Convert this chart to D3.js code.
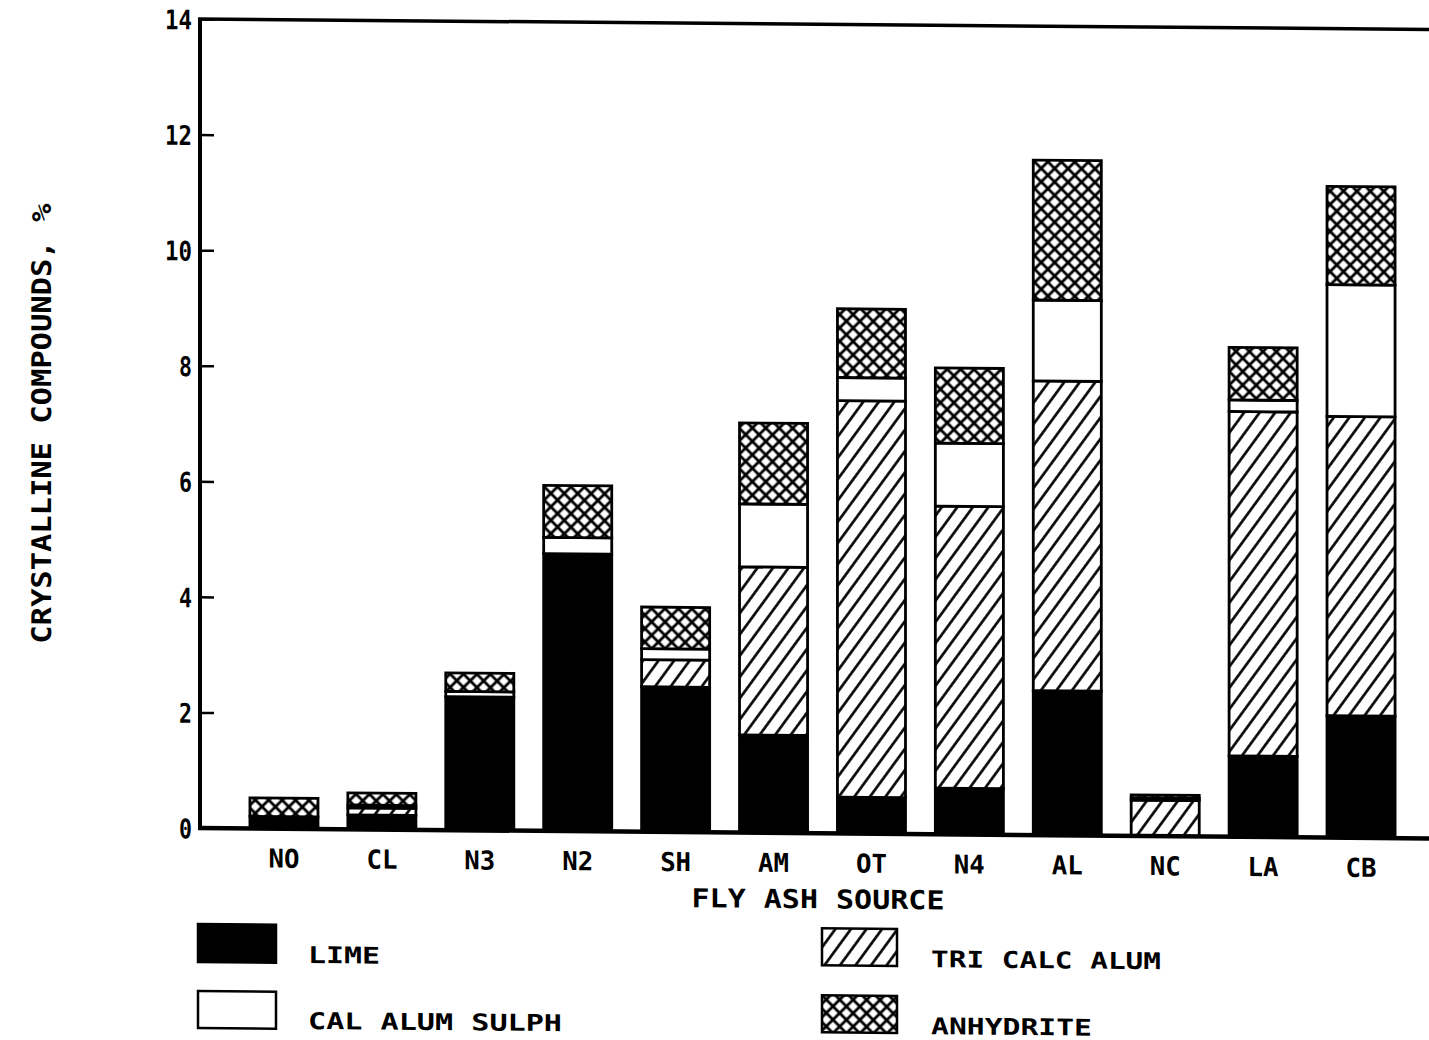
<!DOCTYPE html>
<html>
<head>
<meta charset="utf-8">
<script src="https://cdn.jsdelivr.net/npm/d3@7"></script>
<style>
  html, body { margin: 0; padding: 0; background: #fff; }
  svg { display: block; }
  text { font-family: "DejaVu Sans Mono", "Liberation Mono", monospace; font-weight: bold; fill: #000; }
</style>
</head>
<body>
<svg id="chart" width="1429" height="1040"></svg>
<script>
// Fly ash sources and their crystalline compound contents (%)
const categories = ["NO", "CL", "N3", "N2", "SH", "AM", "OT", "N4", "AL", "NC", "LA", "CB"];
const lime     = [0.21, 0.25, 2.31, 4.80, 2.51, 1.69, 0.63, 0.80, 2.50, 0.00, 1.40, 2.11];
const triCalc  = [0.00, 0.12, 0.00, 0.00, 0.47, 2.91, 6.86, 4.88, 5.36, 0.62, 5.96, 5.18];
const calSulph = [0.00, 0.05, 0.09, 0.28, 0.19, 1.09, 0.40, 1.09, 1.40, 0.04, 0.20, 2.28];
const anhyd    = [0.32, 0.21, 0.32, 0.90, 0.72, 1.40, 1.19, 1.30, 2.42, 0.05, 0.91, 1.70];
const yTicks   = [0, 2, 4, 6, 8, 10, 12, 14];

const seriesKeys   = ["lime", "triCalc", "calSulph", "anhyd"];
const seriesLabels = { lime: "LIME", calSulph: "CAL ALUM SULPH", triCalc: "TRI CALC ALUM", anhyd: "ANHYDRITE" };

const rows = categories.map((c, i) => ({
  source: c, lime: lime[i], triCalc: triCalc[i], calSulph: calSulph[i], anhyd: anhyd[i]
}));

const svg = d3.select("#chart");

// hatch fills
const defs = svg.append("defs");
const dW = 12.5;
const diag = defs.append("pattern")
  .attr("id", "diag").attr("patternUnits", "userSpaceOnUse")
  .attr("width", dW).attr("height", dW)
  .attr("patternTransform", "rotate(36)");
diag.append("rect").attr("width", dW).attr("height", dW).attr("fill", "#fff");
diag.append("line").attr("x1", dW / 2).attr("y1", -1).attr("x2", dW / 2).attr("y2", dW + 1)
  .attr("stroke", "#000").attr("stroke-width", 2.6);

const cW = 9.5;
const cross = defs.append("pattern")
  .attr("id", "cross").attr("patternUnits", "userSpaceOnUse")
  .attr("width", cW).attr("height", cW)
  .attr("patternTransform", "rotate(45)");
cross.append("rect").attr("width", cW).attr("height", cW).attr("fill", "#fff");
cross.append("line").attr("x1", cW / 2).attr("y1", -1).attr("x2", cW / 2).attr("y2", cW + 1)
  .attr("stroke", "#000").attr("stroke-width", 2.8);
cross.append("line").attr("x1", -1).attr("y1", cW / 2).attr("x2", cW + 1).attr("y2", cW / 2)
  .attr("stroke", "#000").attr("stroke-width", 2.8);

const fills = { lime: "#000", calSulph: "#fff", triCalc: "url(#diag)", anhyd: "url(#cross)" };

// the plot sheet sits on a very slight slant
const g = svg.append("g").attr("transform", "matrix(1,0.0085,0,1,0,-1.7)");

const x = d3.scaleBand().domain(categories).range([200, 1445])
  .paddingInner(0.305).paddingOuter(0.51);
const y = d3.scaleLinear().domain([0, 14]).range([828, 19]);

const stacked = d3.stack().keys(seriesKeys)(rows);

// bars
const layer = g.append("g").selectAll("g").data(stacked).join("g")
  .attr("fill", d => fills[d.key]);
layer.selectAll("rect").data(d => d).join("rect")
  .attr("x", d => x(d.data.source))
  .attr("width", x.bandwidth())
  .attr("y", d => y(d[1]))
  .attr("height", d => Math.max(0, y(d[0]) - y(d[1])))
  .attr("stroke", "#000").attr("stroke-width", 2.8)
  .attr("display", d => (d[1] - d[0]) > 0 ? null : "none");

// y axis, ticks pointing into the plot
const yAxis = g.append("g").attr("transform", "translate(200,0)")
  .call(d3.axisLeft(y).tickValues(yTicks).tickSizeInner(-14).tickSizeOuter(0).tickPadding(8));
yAxis.select(".domain").remove();
yAxis.selectAll(".tick line").attr("stroke", "#000").attr("stroke-width", 2.5);
yAxis.selectAll(".tick text")
  .attr("font-size", 27).attr("dy", null).attr("y", 10)
  .attr("textLength", d => String(d).length > 1 ? 27 : 13)
  .attr("lengthAdjust", "spacingAndGlyphs");

// x axis labels
const xAxis = g.append("g").attr("transform", "translate(0,828)")
  .call(d3.axisBottom(x).tickSize(0).tickPadding(0));
xAxis.select(".domain").remove();
xAxis.selectAll(".tick text")
  .attr("font-size", 26).attr("dy", null).attr("y", 39)
  .attr("textLength", 31).attr("lengthAdjust", "spacingAndGlyphs");

// frame lines
g.append("line").attr("x1", 200).attr("x2", 200).attr("y1", 19).attr("y2", 830)
  .attr("stroke", "#000").attr("stroke-width", 4);
g.append("line").attr("x1", 198).attr("x2", 1440).attr("y1", y(0)).attr("y2", y(0))
  .attr("stroke", "#000").attr("stroke-width", 4.5);
g.append("line").attr("x1", 198).attr("x2", 1440).attr("y1", y(14)).attr("y2", y(14))
  .attr("stroke", "#000").attr("stroke-width", 3.5);

// axis titles
g.append("text").attr("x", 818).attr("y", 903).attr("text-anchor", "middle")
  .attr("font-size", 26).attr("textLength", 253).attr("lengthAdjust", "spacingAndGlyphs")
  .text("FLY ASH SOURCE");
g.append("text").attr("transform", "translate(51,425) rotate(-90)")
  .attr("text-anchor", "middle").attr("font-size", 27)
  .attr("textLength", 440).attr("lengthAdjust", "spacingAndGlyphs")
  .text("CRYSTALLINE COMPOUNDS, %");

// legend
const legendItems = [
  { key: "lime",     bx: 198, by: 924, bw: 78, bh: 38, tx: 308, ty: 962,  tl: 72 },
  { key: "calSulph", bx: 198, by: 991, bw: 78, bh: 37, tx: 308, ty: 1028, tl: 254 },
  { key: "triCalc",  bx: 822, by: 923, bw: 75, bh: 37, tx: 931, ty: 961,  tl: 230 },
  { key: "anhyd",    bx: 822, by: 990, bw: 75, bh: 37, tx: 931, ty: 1028, tl: 161 }
];
const leg = g.append("g").selectAll("g").data(legendItems).join("g");
leg.append("rect")
  .attr("x", d => d.bx).attr("y", d => d.by).attr("width", d => d.bw).attr("height", d => d.bh)
  .attr("fill", d => fills[d.key]).attr("stroke", "#000").attr("stroke-width", 2.5);
leg.append("text")
  .attr("x", d => d.tx).attr("y", d => d.ty).attr("font-size", 23)
  .attr("textLength", d => d.tl).attr("lengthAdjust", "spacingAndGlyphs")
  .text(d => seriesLabels[d.key]);
</script>
</body>
</html>
